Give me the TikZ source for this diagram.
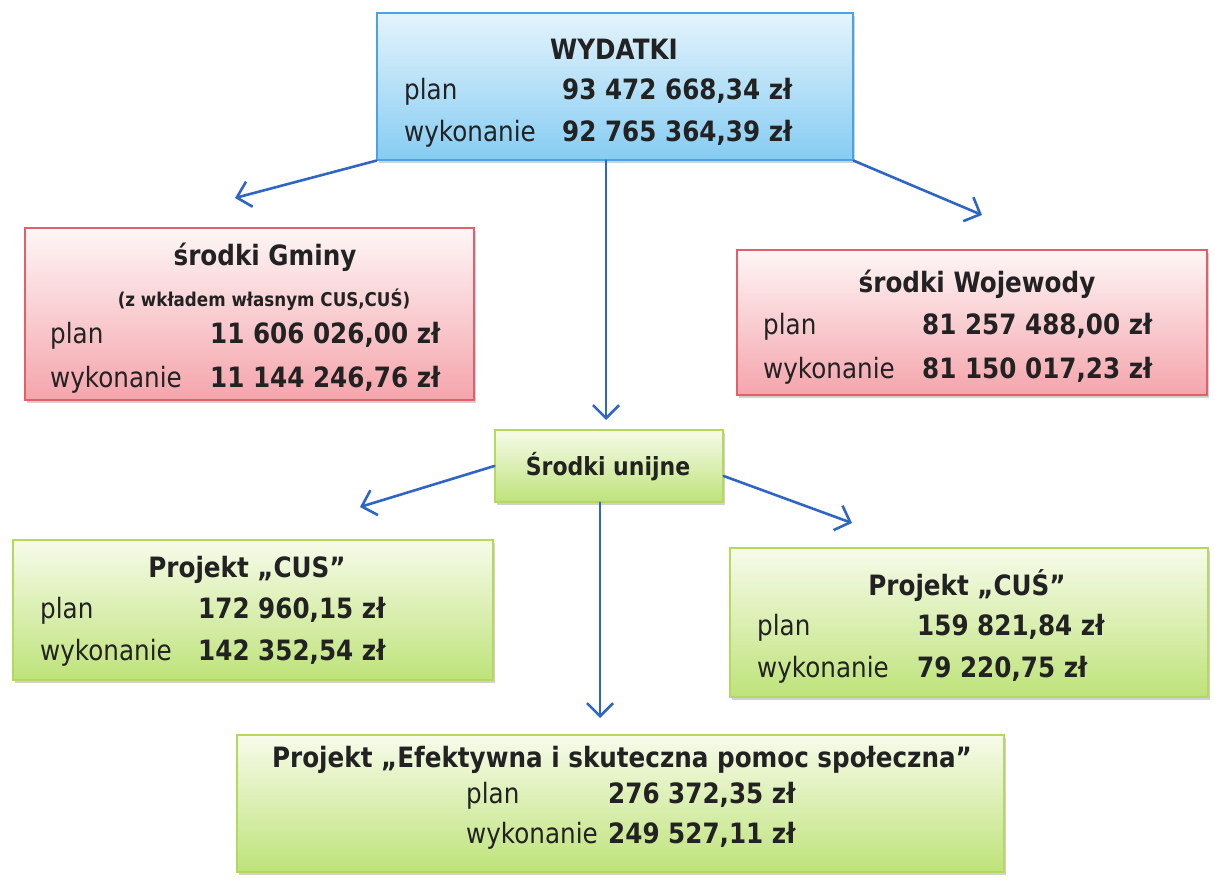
\documentclass[tikz,border=0pt]{standalone}
\usepackage{fontspec}
\setmainfont{DejaVu Sans}[FakeStretch=0.88]
\usetikzlibrary{arrows.meta,shadows}
\definecolor{bluetop}{HTML}{E4F4FC}
\definecolor{bluebot}{HTML}{86CCF2}
\definecolor{bluedraw}{HTML}{4AA3E2}
\definecolor{pinktop}{HTML}{FEF6F6}
\definecolor{pinkbot}{HTML}{F4A5AC}
\definecolor{pinkdraw}{HTML}{E0606C}
\definecolor{greentop}{HTML}{F7FBEA}
\definecolor{greenbot}{HTML}{BEE37A}
\definecolor{greendraw}{HTML}{B4D95C}
\definecolor{arrowblue}{HTML}{2F66C4}
\definecolor{txt}{HTML}{222222}
\begin{document}
\begin{tikzpicture}[x=1pt,y=-1pt,
  box/.style={draw, rectangle, line width=1.3pt, inner sep=0pt,
    drop shadow={shadow xshift=1.5pt, shadow yshift=-3pt, opacity=0.3, fill=black!60}},
  bluebox/.style={box, draw=bluedraw, top color=bluetop, bottom color=bluebot},
  pinkbox/.style={box, draw=pinkdraw, top color=pinktop, bottom color=pinkbot},
  greenbox/.style={box, draw=greendraw, top color=greentop, bottom color=greenbot},
  lab/.style={anchor=base west, inner sep=0pt, text=txt, font=\fontsize{28}{32}\selectfont},
  num/.style={anchor=base west, inner sep=0pt, text=txt, font=\fontsize{28}{32}\selectfont\bfseries},
  ttl/.style={anchor=base, inner sep=0pt, text=txt, font=\fontsize{28}{32}\selectfont\bfseries},
  conn/.style={draw=arrowblue, line width=2.6pt, line cap=round,
    -{Straight Barb[length=13pt,width=26pt,line width=2.6pt]}}
]
\useasboundingbox (0,0) rectangle (1215,885);

% boxes
\node[bluebox, minimum width=476pt, minimum height=147pt] (W) at (615,86.5) {};
\node[pinkbox, minimum width=449pt, minimum height=172pt] (G) at (249.5,314) {};
\node[pinkbox, minimum width=470pt, minimum height=145pt] (V) at (972,322.5) {};
\node[greenbox, minimum width=228pt, minimum height=72pt] (U) at (609,466) {};
\node[greenbox, minimum width=480pt, minimum height=140pt] (C) at (253,610) {};
\node[greenbox, minimum width=478pt, minimum height=149pt] (S) at (969,622.5) {};
\node[greenbox, minimum width=767pt, minimum height=137pt] (E) at (620.5,803.5) {};

% WYDATKI
\node[ttl] (Wt) at (614,60) {WYDATKI};
\node[lab] (Wp) at (404,100) {plan};
\node[num] (Wpv) at (562,100) {93 472 668,34 zł};
\node[lab] (Ww) at (404,142) {wykonanie};
\node[num] (Wwv) at (562,142) {92 765 364,39 zł};

% Gmina
\node[ttl] (Gt) at (265,266) {środki Gminy};
\node[ttl, font=\fontsize{19}{22}\selectfont\bfseries] (Gs) at (264,306) {(z wkładem własnym CUS,CUŚ)};
\node[lab] (Gp) at (50,343) {plan};
\node[num] (Gpv) at (210,343) {11 606 026,00 zł};
\node[lab] (Gw) at (50,387) {wykonanie};
\node[num] (Gwv) at (210,387) {11 144 246,76 zł};

% Wojewoda
\node[ttl] (Vt) at (977,293) {środki Wojewody};
\node[lab] (Vp) at (763,334) {plan};
\node[num] (Vpv) at (922,334) {81 257 488,00 zł};
\node[lab] (Vw) at (763,378) {wykonanie};
\node[num] (Vwv) at (922,378) {81 150 017,23 zł};

% Srodki unijne
\node[ttl, font=\fontsize{25}{30}\selectfont\bfseries] (Ut) at (608,475) {Środki unijne};

% CUS
\node[ttl] (Ct) at (247,577) {Projekt „CUS”};
\node[lab] (Cp) at (40,618) {plan};
\node[num] (Cpv) at (198,618) {172 960,15 zł};
\node[lab] (Cw) at (40,660) {wykonanie};
\node[num] (Cwv) at (198,660) {142 352,54 zł};

% CUŚ
\node[ttl] (St) at (967,595) {Projekt „CUŚ”};
\node[lab] (Sp) at (757,635) {plan};
\node[num] (Spv) at (917,635) {159 821,84 zł};
\node[lab] (Sw) at (757,677) {wykonanie};
\node[num] (Swv) at (917,677) {79 220,75 zł};

% Efektywna
\node[ttl] (Et) at (622,767) {Projekt „Efektywna i skuteczna pomoc społeczna”};
\node[lab] (Ep) at (466,803) {plan};
\node[num] (Epv) at (608,803) {276 372,35 zł};
\node[lab] (Ew) at (466,843) {wykonanie};
\node[num] (Ewv) at (608,843) {249 527,11 zł};

% arrow tips
\coordinate (tG) at (235,198);
\coordinate (tV) at (982,215);
\coordinate (tU) at (606,420);
\coordinate (tC) at (360,507);
\coordinate (tS) at (852,523);
\coordinate (tE) at (600,718);

\draw[conn] (W.south west) -- (tG);
\draw[conn] (W.south east) -- (tV);
\draw[conn] (W.south -| tU) -- (tU);
\draw[conn] (U.west) -- (tC);
\draw[conn] ([yshift=-10pt]U.east) -- (tS);
\draw[conn] (U.south -| tE) -- (tE);
\end{tikzpicture}
\end{document}
